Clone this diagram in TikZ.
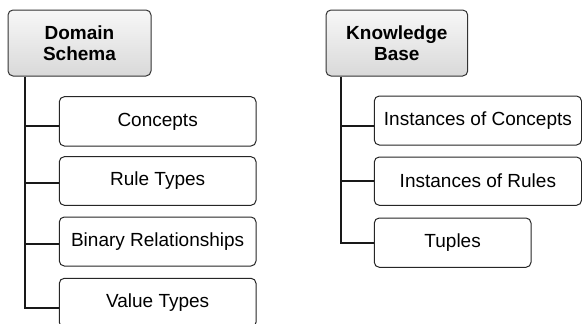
\documentclass[tikz,border=0pt]{standalone}
\usepackage{fontspec}
\setmainfont{Liberation Sans}
\begin{document}
\begin{tikzpicture}[x=1pt,y=-1pt,
  titlebox/.style={draw=black!80,line width=1pt,rounded corners=5pt,top color=black!3,bottom color=black!15,
    font=\fontsize{19}{21}\selectfont\bfseries,align=center,inner sep=0pt},
  childbox/.style={draw=black!85,line width=1pt,rounded corners=5pt,fill=white,
    font=\fontsize{19}{21}\selectfont,align=center,inner sep=0pt},
  conn/.style={draw=black!90,line width=2pt}]
\useasboundingbox (0,0) rectangle (582,324);
\begin{scope}
\clip (0,0) rectangle (582,324);
% left tree
\node[titlebox,minimum width=143pt,minimum height=66pt] (ds) at (79.5,43) {Domain\\Schema};
\node[childbox,minimum width=196.7pt,minimum height=49.3pt] (c1) at (157.65,121.35) {Concepts};
\node[childbox,minimum width=196.7pt,minimum height=48.6pt] (c2) at (157.65,181) {Rule Types};
\node[childbox,minimum width=196.7pt,minimum height=49pt] (c3) at (157.65,241.5) {Binary Relationships};
\node[childbox,minimum width=196.7pt,minimum height=49pt] (c4) at (157.65,302.8) {Value Types};
\coordinate (dsx) at ([xshift=17.7pt]ds.south west);
\draw[conn] (dsx) |- ([yshift=-4.7pt]c4.west);
\draw[conn] (dsx |- c1.west) ++(0,4.6) -- ([yshift=-4.6pt]c1.west);
\draw[conn] (dsx |- c2.west) ++(0,1.7) -- ([yshift=-1.7pt]c2.west);
\draw[conn] (dsx |- c3.west) ++(0,2.2) -- ([yshift=-2.2pt]c3.west);
% right tree
\node[titlebox,minimum width=141.7pt,minimum height=66pt] (kb) at (396.85,43) {Knowledge\\Base};
\node[childbox,minimum width=207.2pt,minimum height=49pt] (k1) at (477.9,120.5) {Instances of Concepts};
\node[childbox,minimum width=207.2pt,minimum height=48.3pt] (k2) at (477.9,181.15) {Instances of Rules};
\node[childbox,minimum width=156.7pt,minimum height=49.3pt] (k3) at (452.65,242.65) {Tuples};
\coordinate (kbx) at ([xshift=15.4pt]kb.south west);
\draw[conn] (kbx) |- ([yshift=-0.6pt]k3.west);
\draw[conn] (kbx |- k1.west) ++(0,5.5) -- ([yshift=-5.5pt]k1.west);
\draw[conn] (kbx |- k2.west) ++(0,0.2) -- ([yshift=-0.2pt]k2.west);
\end{scope}
\end{tikzpicture}
\end{document}
